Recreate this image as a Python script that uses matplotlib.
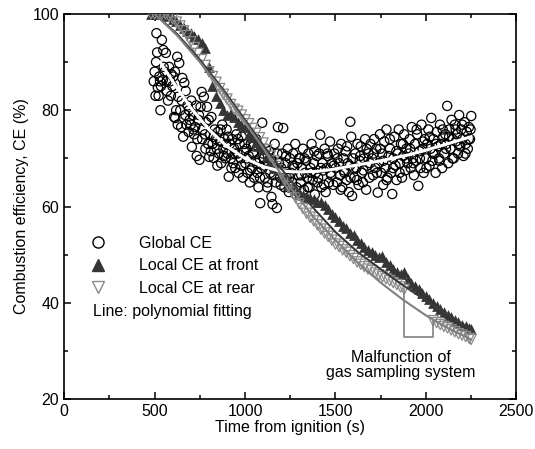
import numpy as np
import matplotlib
matplotlib.use("Agg")
import matplotlib.pyplot as plt
from matplotlib.lines import Line2D

plt.rcParams['font.family'] = ['Liberation Sans', 'DejaVu Sans']

# global CE (open circles)
global_t = [495, 500, 505, 510, 514, 518, 522, 526, 530, 535, 540, 545, 550, 556, 562, 568, 574, 580, 586, 592, 598,
            603, 608, 614, 619, 625, 630, 636, 642, 647, 653, 658, 664, 670, 676, 682, 688, 694,
            700, 706, 712, 718, 724, 730, 736, 742, 748, 754, 760, 766, 772, 778, 784, 790, 796,
            802, 808, 814, 820, 826, 832, 838, 844, 850, 856, 862, 868, 874, 880, 886, 892, 898,
            904, 910, 916, 922, 928, 934, 940, 946, 952, 958, 964, 970, 976, 982, 988, 994,
            1002, 1008, 1014, 1020, 1026, 1032, 1038, 1044, 1050, 1056, 1062, 1068, 1074, 1080, 1084, 1090, 1095,
            1104, 1110, 1116, 1122, 1128, 1134, 1140, 1146, 1152, 1158, 1164, 1170, 1176, 1182, 1188, 1194,
            1200, 1206, 1211, 1218, 1224, 1230, 1236, 1242, 1248, 1254, 1260, 1266, 1272, 1278, 1284, 1290, 1296,
            1302, 1308, 1314, 1320, 1326, 1332, 1338, 1344, 1350, 1356, 1362, 1368, 1374, 1380, 1386, 1392, 1398,
            1404, 1410, 1416, 1422, 1428, 1434, 1440, 1446, 1452, 1458, 1464, 1470, 1476, 1482, 1488, 1494,
            1502, 1508, 1514, 1520, 1526, 1532, 1538, 1544, 1550, 1556, 1562, 1568, 1574, 1580, 1582, 1587, 1592, 1598,
            1604, 1610, 1616, 1622, 1628, 1634, 1640, 1646, 1652, 1658, 1664, 1670, 1676, 1682, 1688, 1694,
            1702, 1708, 1714, 1720, 1726, 1734, 1740, 1746, 1752, 1758, 1764, 1770, 1776, 1782, 1788, 1794,
            1802, 1808, 1814, 1820, 1826, 1832, 1838, 1844, 1850, 1856, 1862, 1868, 1874, 1880, 1886, 1892, 1898,
            1904, 1910, 1916, 1922, 1928, 1934, 1940, 1946, 1952, 1958, 1964, 1970, 1976, 1982, 1988, 1994,
            2002, 2008, 2014, 2020, 2026, 2030, 2036, 2042, 2048, 2054, 2060, 2066, 2072, 2078, 2084, 2090, 2096,
            2102, 2108, 2114, 2118, 2124, 2130, 2136, 2142, 2148, 2154, 2160, 2166, 2172, 2178, 2184, 2190, 2196,
            2202, 2208, 2214, 2220, 2226, 2232, 2238, 2244, 2251,
            508, 532, 548, 566, 590, 612, 628, 650, 672, 690,
            703, 715, 733, 745, 763, 781, 799, 811, 829, 847, 865, 883, 895,
            907, 925, 943, 961, 979, 997, 1011, 1029, 1047, 1065, 1083, 1099,
            1107, 1125, 1143, 1161, 1179, 1197, 1209, 1227, 1245, 1263, 1281, 1299,
            1311, 1329, 1347, 1365, 1383, 1401, 1419, 1437, 1455, 1473, 1491,
            1511, 1529, 1547, 1565, 1583, 1601, 1619, 1637, 1655, 1673, 1691,
            1711, 1729, 1747, 1765, 1783, 1801, 1819, 1837, 1855, 1873, 1891,
            1913, 1931, 1949, 1967, 1985, 2003, 2021, 2039, 2057, 2075, 2093,
            2111, 2129, 2147, 2165, 2183, 2201, 2219, 2237, 2247]
global_ce = [86, 88, 83, 96, 92, 84.7, 83, 87, 86, 85, 94.6, 86.3, 89, 88, 91.9, 84, 82, 89, 86, 87.5, 85,
             87, 78.6, 78.4, 80, 91.1, 82.8, 89.8, 80, 76.5, 86.7, 74.5, 85.7, 79, 77, 81, 75.5, 78,
             77, 72.4, 79, 75, 76.5, 81, 74, 78, 69.7, 80.7, 83.8, 76, 82.8, 75, 77.5, 80.7, 73,
             70.3, 75, 78.6, 73, 70.1, 76, 74, 72, 75.5, 71, 73.5, 69, 77, 72, 74, 70, 76,
             71, 66.2, 73, 70, 74, 69, 72, 68, 75, 71, 67, 73, 70, 74.5, 66, 71.5,
             69, 72, 67, 70.5, 65, 73, 68, 71, 66, 69.5, 74, 67, 64, 70, 60.7, 68, 77.4,
             70, 66, 72, 64, 69, 71.5, 67, 62, 60.5, 68, 73, 65, 59.7, 76.5, 69, 66,
             68, 71, 76.3, 64, 69, 66, 72, 63, 70, 67, 65, 71, 68, 73, 64, 69, 66.5,
             70, 65, 68, 72, 63.5, 67, 69.5, 66, 71, 64, 68, 73, 65.5, 69, 62.5, 67, 70.5,
             66, 71, 74.9, 64, 69, 67.5, 72, 63, 68, 70.5, 65, 73.5, 66.5, 69, 64.5, 71,
             68, 65, 72, 69, 66.5, 73, 64, 70, 67, 71.5, 65.5, 69, 63, 68.5, 77.6, 74.5, 62.2, 70,
             66, 71, 68, 73, 64.5, 69.5, 72.5, 67, 65, 70, 74, 63.5, 68.5, 71, 66, 73,
             70, 66.5, 74, 68, 72, 62.9, 69, 75, 67, 71, 64.5, 73.5, 68, 76, 66, 70.5,
             72, 67, 62.6, 70, 74.5, 68.5, 65.5, 71, 76, 69, 73, 66, 70.5, 75, 67.5, 72, 69,
             71, 74, 68, 76.5, 70, 66.5, 73, 69.5, 75, 64.3, 71.5, 68, 77, 72, 67, 74,
             70, 73, 76, 68.5, 72, 78.4, 69.5, 74, 71, 67, 75.5, 72.5, 70, 77, 73, 68, 74.5,
             71, 75, 73, 80.9, 69, 76, 72, 78, 74, 70, 77, 73.5, 75, 71, 79, 72.5, 76,
             74, 70.5, 77.5, 73, 75.5, 72, 76.5, 74, 78.8,
             90, 80, 92.5, 86, 83, 88, 77, 82, 84, 80,
             82, 76, 70.5, 79, 74, 72, 78, 71.5, 74.5, 68.5, 76, 70.5, 73,
             74.5, 68, 71, 74, 68.5, 73, 70, 67.5, 72.5, 69, 66, 71,
             68.5, 65, 70, 66.5, 71, 64.5, 67, 70.5, 66, 68.5, 62.5, 70,
             66.5, 70, 64, 67, 71.5, 65, 68, 64.5, 71, 67, 68.5,
             70, 63.5, 67.5, 72.5, 66, 68, 65.5, 70.5, 67.5, 72, 69,
             71, 67, 72, 69.5, 65.5, 74, 68, 71.5, 67, 73, 70,
             72, 69, 76, 70, 73.5, 68, 74.5, 71, 73, 69.5, 76,
             72, 74.5, 70, 76, 73, 77, 71, 74, 76]

# local CE at front (filled triangles)
front_t = [480, 500, 520, 540, 560, 580, 600, 620, 640, 660, 680, 700, 720, 740, 760, 780, 800, 820,
           840, 860, 880, 900, 920, 940, 960, 980, 1000, 1020, 1040, 1060, 1080, 1100, 1120, 1140,
           1160, 1180, 1200, 1220, 1240, 1260, 1280, 1300, 1320, 1340, 1360, 1380, 1400, 1420, 1440,
           1460, 1480, 1500, 1520, 1540, 1560, 1580, 1600, 1620, 1640, 1660, 1680, 1700, 1720, 1740,
           1760, 1780, 1800, 1820, 1840, 1860, 1880, 1900, 1920, 1940, 1960, 1980, 2000, 2020, 2040,
           2060, 2080, 2100, 2120, 2140, 2160, 2180, 2200, 2220, 2240, 2250]
front_ce = [100, 100, 100, 100, 99.8, 99.5, 99, 98.5, 97.8, 97, 96.5, 96, 95.5, 94.8, 94, 93, 89, 85,
            83, 81.5, 80, 79, 79.5, 78.5, 77.5, 77, 76.5, 75, 74.5, 73.5, 72.5, 72, 70.5, 69.5,
            68, 67.5, 66.5, 65.5, 64.5, 64, 63.5, 63, 62.5, 62, 61.8, 61.5, 61, 61, 60.3,
            59.5, 58.5, 57.8, 57, 56, 55.5, 54.5, 54, 53, 52.5, 51.5, 51, 50.5, 50, 49.5,
            49.8, 48.5, 47.8, 47, 46.5, 46, 46.5, 45, 44.2, 43.5, 42.8, 42, 41.5, 40.8, 40,
            39.3, 38.7, 38.2, 37.5, 37, 36.5, 36, 35.5, 35.2, 34.8, 34.5]

# local CE at rear (open down triangles), gap = sampling malfunction
rear_t = [480, 500, 520, 540, 560, 580, 600, 620, 640, 660, 680, 700, 720, 740, 760, 780, 800, 820,
          840, 860, 880, 900, 920, 940, 960, 980, 1000, 1020, 1040, 1060, 1080, 1100, 1120, 1140,
          1160, 1180, 1200, 1220, 1240, 1260, 1280, 1300, 1320, 1340, 1360, 1380, 1400, 1420, 1440,
          1460, 1480, 1500, 1520, 1540, 1560, 1580, 1600, 1620, 1640, 1660, 1680, 1700, 1720, 1740,
          1760, 1780, 1800, 1820, 1840, 1860, 1880,
          2040, 2060, 2080, 2100, 2120, 2140, 2160, 2180, 2200, 2220, 2240, 2250]
rear_ce = [100, 100, 100, 100, 100, 99.5, 99, 98.3, 97.5, 96.5, 95.5, 94.2, 93, 91.8, 90.5, 89.3, 88, 87,
           85.8, 84.5, 83.3, 82.3, 81.2, 80.2, 79.8, 79, 78, 77.2, 76.2, 75.2, 74.3, 73.2, 71.8, 70.5,
           69.5, 68.3, 66.8, 65.5, 64.2, 63, 61.8, 60.6, 59.6, 58.6, 57.8, 57, 56.2, 55.3, 54.5,
           53.8, 53, 52.2, 51.7, 51, 50.5, 49.8, 49.2, 48.5, 48, 47.5, 47, 46.7, 46.2, 45.8,
           45.4, 45, 44.6, 44.2, 43.8, 43.3, 42.8,
           36.3, 35.9, 35.5, 35.1, 34.8, 34.4, 34, 33.6, 33.3, 33, 32.6, 32.4]

# polynomial fitting lines
fit_t = [500, 625, 750, 875, 1000, 1125, 1250, 1375, 1500, 1625, 1750, 1875, 2000, 2125, 2250]
fit_front = [100, 95.8, 90.5, 84.5, 78, 71.5, 65.5, 59.8, 54.7, 50.5, 47, 43.6, 40.5, 37.4, 34.5]
fit_rear = [100, 95.5, 90, 84, 77.5, 70.8, 64, 58, 53, 48.3, 44.2, 40.6, 37.4, 34.7, 32.4]
gfit_t = [530, 600, 700, 800, 900, 1000, 1100, 1200, 1300, 1400, 1500, 1600, 1750, 1900, 2000, 2100, 2250]
gfit_ce = [90, 86, 80.5, 76, 72.5, 70, 68.3, 67.3, 67.2, 67.3, 67.8, 68.5, 69.5, 70.7, 71.7, 72.8, 74.5]

bracket_bottom = 33

fig = plt.figure(figsize=(5.35, 4.49), dpi=100)
ax = fig.add_axes([0.120, 0.111, 0.845, 0.858])

ax.scatter(global_t, global_ce, s=44, facecolors='none', edgecolors='black', linewidths=0.9, zorder=2)
ax.scatter(front_t, front_ce, s=60, marker='^', color='#353535', linewidths=0, zorder=3)
ax.scatter(rear_t, rear_ce, s=55, marker='v', facecolors='none', edgecolors='#8a8a8a', linewidths=0.9, zorder=3)

ax.plot(gfit_t, gfit_ce, color='white', lw=2.2, zorder=4)
ax.plot(fit_t, fit_front, color='#3a3a3a', lw=1.5, zorder=4)
ax.plot(fit_t, fit_rear, color='#808080', lw=1.5, zorder=4)

# malfunction bracket
i_gap = rear_t.index(1880)
bx = [rear_t[i_gap], rear_t[i_gap], rear_t[i_gap + 1], rear_t[i_gap + 1]]
by = [rear_ce[i_gap], bracket_bottom, bracket_bottom, rear_ce[i_gap + 1]]
ax.plot(bx, by, color='#808080', lw=1.2, zorder=4)
ax.text(1860, 27, 'Malfunction of\ngas sampling system', ha='center', va='center',
        fontsize=11.5, linespacing=1.0)

ax.set_xlim(0, 2500)
ax.set_ylim(20, 100)
ax.set_xticks(np.arange(0, 2501, 500))
ax.set_xticks(np.arange(0, 2501, 250), minor=True)
ax.set_yticks(np.arange(20, 101, 20))
ax.set_yticks(np.arange(20, 101, 10), minor=True)
ax.tick_params(which='both', direction='in', top=True, right=True, labelsize=11.5, width=1.1)
ax.tick_params(which='major', length=5)
ax.tick_params(which='minor', length=3)
for sp in ax.spines.values():
    sp.set_linewidth(1.2)
ax.set_xlabel('Time from ignition (s)', fontsize=11.5, labelpad=1)
ax.set_ylabel('Combustion efficiency, CE (%)', fontsize=11.5, labelpad=3)

handles = [Line2D([], [], ls='none', marker='o', ms=8, mfc='none', mec='black', mew=1.0),
           Line2D([], [], ls='none', marker='^', ms=8.5, color='#353535'),
           Line2D([], [], ls='none', marker='v', ms=8.5, mfc='none', mec='#8a8a8a', mew=1.0)]
labels = ['Global CE', 'Local CE at front', 'Local CE at rear']
ax.legend(handles, labels, loc='upper left', bbox_to_anchor=(0.026, 0.44), frameon=False,
          fontsize=11.5, handletextpad=1.55, labelspacing=0.46, borderaxespad=0)
ax.text(0.063, 0.228, 'Line: polynomial fitting', transform=ax.transAxes, fontsize=11.5,
        ha='left', va='center')

fig.savefig('out.png', dpi=100)
